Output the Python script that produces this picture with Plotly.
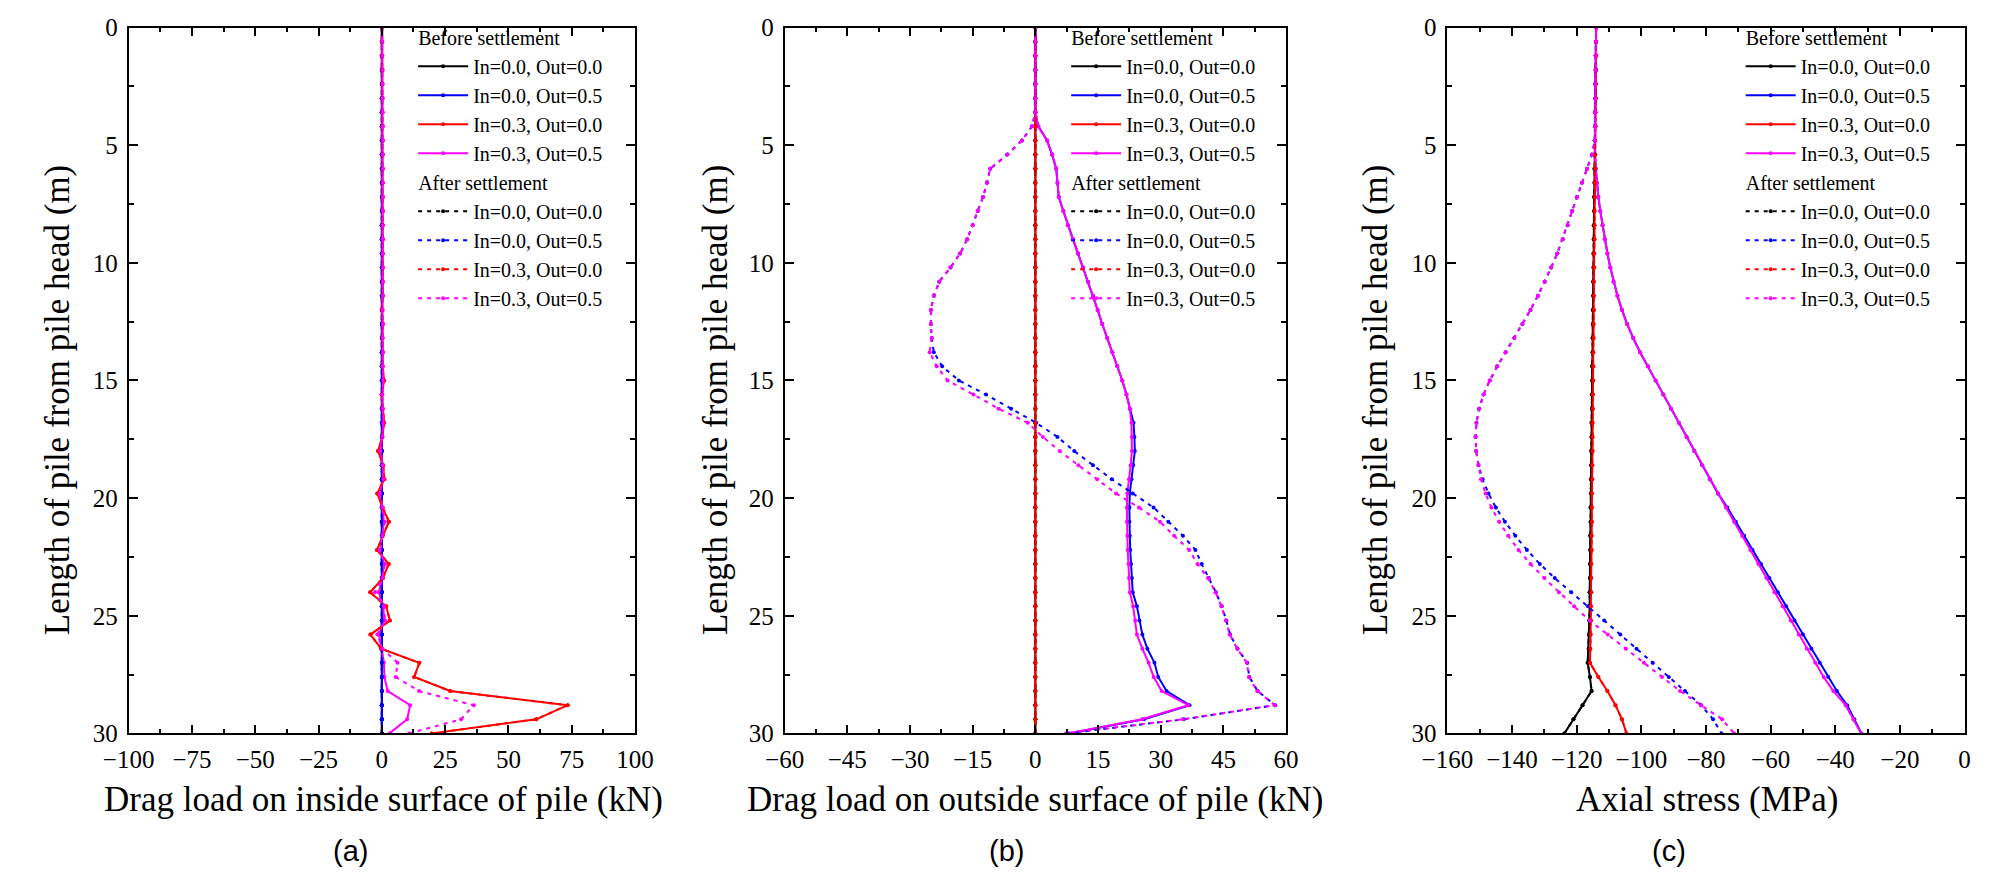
import plotly.graph_objects as go

# ---------------- data ----------------
DEPTH = [0.0, 0.6, 1.2, 1.8, 2.4, 3.0, 3.6, 4.2, 4.8, 5.4,
         6.0, 6.6, 7.2, 7.8, 8.4, 9.0, 9.6, 10.2, 10.8, 11.4,
         12.0, 12.6, 13.2, 13.8, 14.4, 15.0, 15.6, 16.2, 16.8, 17.4,
         18.0, 18.6, 19.2, 19.8, 20.4, 21.0, 21.6, 22.2, 22.8, 23.4,
         24.0, 24.6, 25.2, 25.8, 26.4, 27.0, 27.6, 28.2, 28.8, 29.4,
         30.0]

SERIES_NAMES = ["In=0.0, Out=0.0", "In=0.0, Out=0.5", "In=0.3, Out=0.0", "In=0.3, Out=0.5"]
GROUP_TITLES = ["Before settlement", "After settlement"]

ZERO = [0.0, 0.0, 0.0, 0.0, 0.0, 0.0, 0.0, 0.0, 0.0, 0.0,
        0.0, 0.0, 0.0, 0.0, 0.0, 0.0, 0.0, 0.0, 0.0, 0.0,
        0.0, 0.0, 0.0, 0.0, 0.0, 0.0, 0.0, 0.0, 0.0, 0.0,
        0.0, 0.0, 0.0, 0.0, 0.0, 0.0, 0.0, 0.0, 0.0, 0.0,
        0.0, 0.0, 0.0, 0.0, 0.0, 0.0, 0.0, 0.0, 0.0, 0.0,
        0.0]

# (a) drag load on inside surface (kN)
A_RED = [0.0, 0.1, 0.1, 0.1, 0.1, 0.2, 0.2, 0.2, 0.3, 0.3,
         0.3, 0.3, 0.3, 0.4, 0.3, 0.4, 0.3, 0.4, 0.3, 0.4,
         0.0, 0.4, 0.2, 0.4, 0.3, 0.9, 0.0, 0.3, 0.9, 0.2,
         -1.5, 0.5, 1.0, -1.8, 0.3, 2.8, 0.3, -1.9, 2.7, 0.4,
         -4.6, 1.7, 3.2, -4.5, -0.3, 14.8, 12.8, 27.0, 73.4, 61.0,
         19.7]
A_MAG_BEFORE = [0.2, 0.2, 0.2, 0.3, 0.3, 0.3, 0.3, 0.4, 0.4, 0.4,
                0.4, 0.4, 0.4, 0.4, 0.4, 0.4, 0.4, 0.4, 0.4, 0.4,
                0.3, 0.4, 0.3, 0.4, 0.3, 0.5, 0.2, 0.3, 0.5, 0.2,
                -0.4, 0.3, 0.4, -0.5, 0.2, 0.8, 0.2, -0.5, 0.8, 0.2,
                -1.2, 0.6, 0.9, -1.2, 0.0, 0.8, 1.0, 2.3, 11.2, 10.0,
                3.0]
A_MAG_AFTER = [0.2, 0.2, 0.2, 0.3, 0.3, 0.3, 0.3, 0.4, 0.4, 0.4,
               0.4, 0.4, 0.4, 0.4, 0.4, 0.4, 0.4, 0.4, 0.4, 0.4,
               0.3, 0.4, 0.3, 0.4, 0.3, 0.5, 0.2, 0.3, 0.5, 0.2,
               -0.6, 0.3, 0.6, -0.8, 0.2, 1.2, 0.2, -0.8, 1.2, 0.2,
               -2.7, 0.8, 1.3, -1.8, 0.3, 6.2, 5.5, 14.7, 36.3, 31.3,
               10.8]

# (b) drag load on outside surface (kN)
B_BLUE_BEFORE = [0.0, 0.0, 0.0, 0.0, 0.0, 0.0, 0.0, 0.7, 2.8, 4.0,
                 5.0, 5.3, 5.6, 6.7, 7.8, 9.0, 10.2, 11.4, 12.6, 13.8,
                 14.9, 16.0, 17.2, 18.4, 19.6, 20.8, 21.8, 22.6, 23.5, 23.7,
                 23.8, 23.4, 23.0, 22.6, 22.5, 22.5, 22.6, 22.7, 22.9, 23.1,
                 23.3, 24.3, 24.9, 25.6, 26.8, 28.5, 29.4, 31.4, 36.9, 26.0,
                 8.0]
B_MAG_BEFORE = [0.0, 0.0, 0.0, 0.0, 0.0, 0.0, 0.0, 0.7, 2.8, 4.0,
                5.0, 5.3, 5.6, 6.7, 7.8, 9.0, 10.2, 11.4, 12.6, 13.8,
                14.9, 16.0, 17.2, 18.4, 19.6, 20.8, 21.8, 22.6, 23.0, 23.1,
                23.1, 22.8, 22.4, 22.0, 21.9, 21.9, 22.0, 22.1, 22.3, 22.4,
                22.6, 23.4, 23.9, 24.3, 25.6, 27.1, 28.3, 30.2, 36.6, 25.5,
                7.7]
B_BLUE_AFTER = [0.0, 0.0, 0.0, 0.0, 0.0, 0.0, 0.0, -0.8, -3.2, -6.7,
                -10.8, -11.6, -12.5, -13.8, -15.0, -16.3, -18.0, -20.3, -23.0, -24.3,
                -25.0, -25.0, -24.8, -24.3, -22.3, -18.3, -11.8, -5.8, 0.2, 5.3,
                9.3, 13.8, 18.3, 23.3, 28.3, 31.8, 35.3, 38.3, 39.8, 41.5,
                43.2, 44.6, 45.7, 46.6, 48.4, 50.7, 51.2, 53.2, 57.4, 35.5,
                7.5]
B_MAG_AFTER = [0.0, 0.0, 0.0, 0.0, 0.0, 0.0, 0.0, -0.8, -3.2, -6.7,
               -10.8, -11.6, -12.5, -13.8, -15.0, -16.3, -18.0, -20.3, -23.0, -24.3,
               -25.0, -25.0, -24.8, -25.3, -23.6, -21.0, -14.8, -8.8, -1.8, 1.8,
               5.8, 10.3, 14.8, 19.3, 24.8, 29.8, 33.2, 36.8, 38.8, 41.3,
               43.1, 44.5, 45.6, 46.5, 48.3, 50.6, 51.1, 53.1, 57.3, 35.3,
               7.3]

# (c) axial stress (MPa)
C_BLACK = [-114.0, -114.0, -114.1, -114.1, -114.2, -114.2, -114.3, -114.3, -114.4, -114.4,
           -114.5, -114.5, -114.6, -114.6, -114.7, -114.7, -114.8, -114.8, -114.9, -114.9,
           -115.0, -115.0, -115.1, -115.1, -115.2, -115.2, -115.3, -115.3, -115.4, -115.4,
           -115.5, -115.5, -115.6, -115.6, -115.7, -115.7, -115.8, -115.8, -115.9, -115.9,
           -116.0, -116.0, -116.1, -116.2, -116.3, -116.6, -115.9, -115.4, -118.2, -121.0,
           -123.8]
C_RED = [-114.0, -114.0, -114.0, -114.1, -114.1, -114.1, -114.2, -114.2, -114.3, -114.3,
         -114.3, -114.4, -114.4, -114.5, -114.5, -114.5, -114.6, -114.6, -114.7, -114.7,
         -114.7, -114.8, -114.8, -114.9, -114.9, -114.9, -115.0, -115.0, -115.1, -115.1,
         -115.1, -115.2, -115.2, -115.3, -115.3, -115.3, -115.4, -115.4, -115.5, -115.5,
         -115.5, -115.6, -115.6, -115.7, -115.8, -115.9, -113.3, -110.5, -108.0, -106.0,
         -104.6]
C_BLUE_BEFORE = [-114.0, -114.0, -114.1, -114.1, -114.2, -114.2, -114.3, -114.3, -114.4, -114.3,
                 -114.1, -113.8, -113.3, -112.7, -112.0, -111.3, -110.5, -109.6, -108.6, -107.4,
                 -106.0, -104.4, -102.5, -100.4, -98.0, -95.6, -93.2, -90.8, -88.4, -86.0,
                 -83.6, -81.2, -78.8, -76.3, -73.4, -70.8, -68.2, -65.6, -63.0, -60.4,
                 -57.8, -55.2, -52.6, -50.0, -47.4, -44.8, -42.2, -39.5, -36.3, -34.1,
                 -31.9]
C_MAG_BEFORE = [-114.0, -114.0, -114.1, -114.1, -114.2, -114.2, -114.3, -114.3, -114.4, -114.3,
                -114.1, -113.8, -113.3, -112.7, -112.0, -111.3, -110.5, -109.6, -108.6, -107.4,
                -106.0, -104.4, -102.5, -100.4, -98.0, -95.6, -93.2, -90.8, -88.4, -86.0,
                -83.6, -81.2, -78.8, -76.3, -73.8, -71.3, -68.8, -66.3, -63.8, -61.3,
                -58.8, -56.3, -53.8, -51.3, -48.8, -46.2, -43.6, -40.6, -36.8, -34.4,
                -32.0]
C_BLUE_AFTER = [-114.0, -114.0, -114.1, -114.1, -114.2, -114.2, -114.3, -114.3, -114.4, -115.3,
                -116.8, -118.4, -119.9, -121.4, -122.8, -124.3, -126.0, -127.9, -129.9, -132.0,
                -134.3, -136.8, -139.3, -142.0, -144.6, -146.9, -148.8, -150.2, -151.0, -151.3,
                -151.1, -150.4, -149.1, -147.3, -145.0, -142.2, -139.0, -135.4, -131.4, -126.8,
                -121.7, -116.5, -111.5, -106.5, -101.5, -96.5, -91.5, -86.5, -81.5, -77.8,
                -75.2]
C_MAG_AFTER = [-114.0, -114.0, -114.1, -114.1, -114.2, -114.2, -114.3, -114.3, -114.4, -115.3,
               -116.8, -118.4, -119.9, -121.4, -122.8, -124.3, -126.0, -127.9, -129.9, -132.0,
               -134.3, -136.8, -139.3, -142.0, -144.6, -146.9, -148.8, -150.2, -151.0, -151.3,
               -151.1, -150.4, -149.6, -148.2, -146.4, -144.0, -141.2, -138.0, -134.3, -130.0,
               -125.5, -120.8, -116.0, -110.4, -104.8, -99.2, -93.6, -88.0, -81.5, -75.0,
               -71.3]

PANELS = [
    dict(before=[ZERO, ZERO, A_RED, A_MAG_BEFORE], after=[ZERO, ZERO, A_RED, A_MAG_AFTER]),
    dict(before=[ZERO, B_BLUE_BEFORE, ZERO, B_MAG_BEFORE], after=[ZERO, B_BLUE_AFTER, ZERO, B_MAG_AFTER]),
    dict(before=[C_BLACK, C_BLUE_BEFORE, C_RED, C_MAG_BEFORE], after=[C_BLACK, C_BLUE_AFTER, C_RED, C_MAG_AFTER]),
]

X_TITLES = ["Drag load on inside surface of pile (kN)",
            "Drag load on outside surface of pile (kN)",
            "Axial stress (MPa)"]
Y_TITLE = "Length of pile from pile head (m)"
PANEL_LABELS = ["(a)", "(b)", "(c)"]
X_RANGES = [[-100, 100], [-60, 60], [-160, 0]]
X_DTICK = [25, 15, 20]

# ---------------- style / layout ----------------
W, H = 2008, 888
COLORS = ["#000000", "#0000ff", "#ff0000", "#ff00ff"]
SERIF = "Liberation Serif"
X_DOMAINS = [[105 / W, 623 / W], [776 / W, 1289 / W], [1454 / W, 1983 / W]]
Y_DOMAIN = [1 - 743 / H, 1 - 15 / H]
LEGEND_X = [396 / W, 1064 / W, 1754 / W]
YTITLE_X = [33, 706, 1381]
XTITLE_X = [366, 1032, 1720]
LABEL_X = [332, 1003, 1681]

fig = go.Figure()

for p, panel in enumerate(PANELS):
    sfx = "" if p == 0 else str(p + 1)
    for g, (key, dash) in enumerate([("before", "solid"), ("after", "4px,5px")]):
        for s in range(4):
            fig.add_trace(go.Scatter(
                x=panel[key][s], y=DEPTH,
                mode="lines+markers",
                name=SERIES_NAMES[s],
                line=dict(color=COLORS[s], width=2, dash=dash),
                marker=dict(color=COLORS[s], size=4, symbol="circle"),
                xaxis="x" + sfx, yaxis="y" + sfx,
                legend="legend" + sfx,
                legendgroup=key + sfx,
                legendgrouptitle=dict(text=GROUP_TITLES[g],
                                      font=dict(family=SERIF, size=20, color="black")),
                hoverinfo="x+y",
            ))

axis_common = dict(
    showline=True, linewidth=1.8, linecolor="black", mirror="ticks",
    ticks="inside", ticklen=9, tickwidth=1.5, tickcolor="black",
    showgrid=False, zeroline=False,
    tickfont=dict(family=SERIF, size=25, color="black"),
)

layout = dict(
    width=W, height=H,
    margin=dict(l=0, r=0, t=0, b=0),
    paper_bgcolor="white", plot_bgcolor="white",
    showlegend=True,
    annotations=[],
)

for p in range(3):
    sfx = "" if p == 0 else str(p + 1)
    layout["xaxis" + sfx] = dict(
        axis_common, domain=X_DOMAINS[p], anchor="y" + sfx,
        range=X_RANGES[p], tick0=0, dtick=X_DTICK[p], ticklabelstandoff=3,
        minor=dict(ticks="inside", ticklen=5, tickwidth=1.5, tickcolor="black",
                   dtick=X_DTICK[p] / 2, showgrid=False),
    )
    layout["yaxis" + sfx] = dict(
        axis_common, domain=Y_DOMAIN, anchor="x" + sfx,
        range=[30, 0], tick0=0, dtick=5, ticklabelstandoff=4,
        minor=dict(ticks="inside", ticklen=5, tickwidth=1.5, tickcolor="black",
                   dtick=2.5, showgrid=False),
    )
    layout["legend" + sfx] = dict(
        x=LEGEND_X[p], y=1 - 5 / H, xanchor="left", yanchor="top",
        bgcolor="rgba(0,0,0,0)", borderwidth=0,
        font=dict(family=SERIF, size=20, color="black"),
        itemwidth=50, tracegroupgap=0, traceorder="grouped",
    )
    layout["annotations"] += [
        dict(text=Y_TITLE, x=YTITLE_X[p] / W, y=1 - 399 / H, xref="paper", yref="paper",
             textangle=-90, showarrow=False, xanchor="center", yanchor="middle",
             font=dict(family=SERIF, size=35, color="black")),
        dict(text=X_TITLES[p], x=XTITLE_X[p] / W, y=1 - 811 / H, xref="paper", yref="paper",
             showarrow=False, xanchor="center", yanchor="middle",
             font=dict(family=SERIF, size=35, color="black")),
        dict(text=PANEL_LABELS[p], x=LABEL_X[p] / W, y=1 - 864 / H, xref="paper", yref="paper",
             showarrow=False, xanchor="center", yanchor="middle",
             font=dict(family="Liberation Sans", size=29, color="black")),
    ]

fig.update_layout(**layout)
fig.write_html("out.html")
